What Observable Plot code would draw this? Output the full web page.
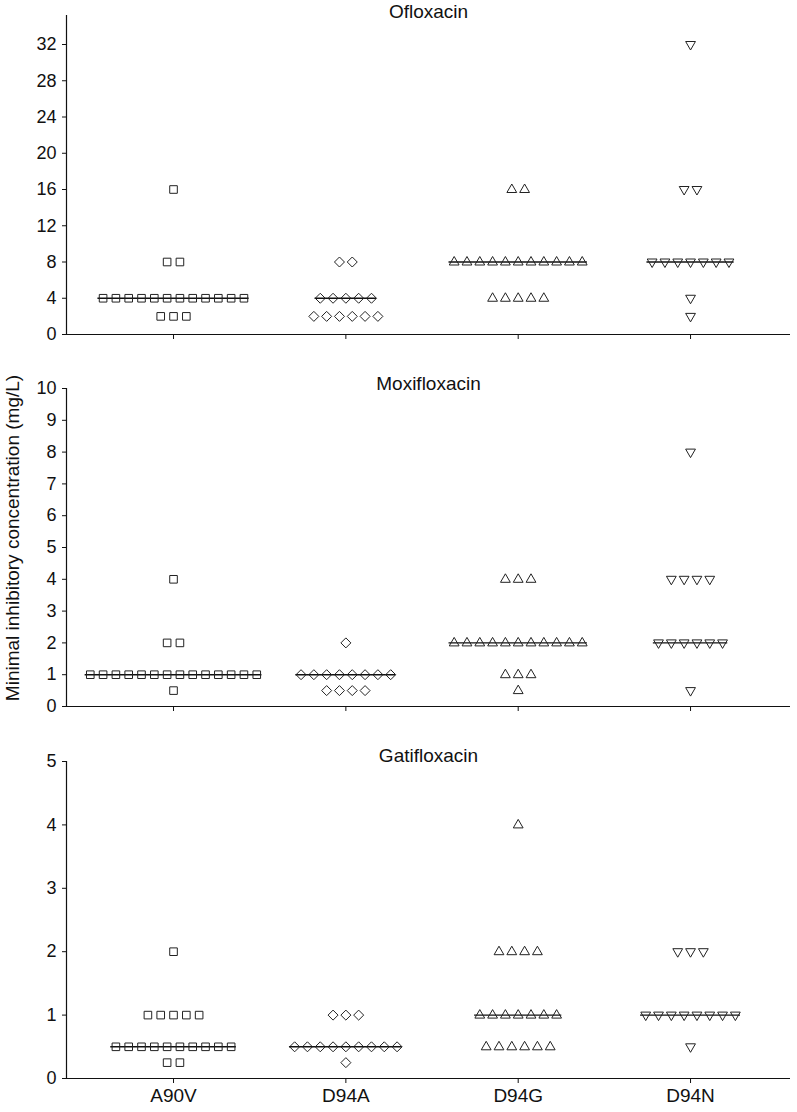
<!DOCTYPE html>
<html>
<head>
<meta charset="utf-8">
<script src="https://cdn.jsdelivr.net/npm/d3@7"></script>
<script src="https://cdn.jsdelivr.net/npm/@observablehq/plot@0.6"></script>
<style>
  html, body { margin: 0; padding: 0; background: #fff; }
  body { width: 797px; height: 1112px; position: relative; overflow: hidden;
         font-family: "Liberation Sans", Arial, sans-serif; color: #111; }
  .panel { position: absolute; left: 0; }
  #ylabel { position: absolute; left: 13px; top: 538px; transform: translate(-50%, -50%) rotate(-90deg);
            white-space: nowrap; font-size: 19px; }
</style>
</head>
<body>
<div id="p1" class="panel" style="top:0px"></div>
<div id="p2" class="panel" style="top:346px"></div>
<div id="p3" class="panel" style="top:716px"></div>
<div id="ylabel">Minimal inhibitory concentration (mg/L)</div>
<script>
// ---- data: [mutation, MIC (mg/L), number of isolates] ----
const categories = ["A90V", "D94A", "D94G", "D94N"];

const ofloxacinRows = [
  ["A90V", 16, 1], ["A90V", 8, 2], ["A90V", 4, 12], ["A90V", 2, 3],
  ["D94A", 8, 2], ["D94A", 4, 5], ["D94A", 2, 6],
  ["D94G", 16, 2], ["D94G", 8, 11], ["D94G", 4, 5],
  ["D94N", 32, 1], ["D94N", 16, 2], ["D94N", 8, 7], ["D94N", 4, 1], ["D94N", 2, 1]
];
const moxifloxacinRows = [
  ["A90V", 4, 1], ["A90V", 2, 2], ["A90V", 1, 14], ["A90V", 0.5, 1],
  ["D94A", 2, 1], ["D94A", 1, 8], ["D94A", 0.5, 4],
  ["D94G", 4, 3], ["D94G", 2, 11], ["D94G", 1, 3], ["D94G", 0.5, 1],
  ["D94N", 8, 1], ["D94N", 4, 4], ["D94N", 2, 6], ["D94N", 0.5, 1]
];
const gatifloxacinRows = [
  ["A90V", 2, 1], ["A90V", 1, 5], ["A90V", 0.5, 10], ["A90V", 0.25, 2],
  ["D94A", 1, 3], ["D94A", 0.5, 9], ["D94A", 0.25, 1],
  ["D94G", 4, 1], ["D94G", 2, 4], ["D94G", 1, 7], ["D94G", 0.5, 6],
  ["D94N", 2, 3], ["D94N", 1, 8], ["D94N", 0.5, 1]
];

const ofloxacinTicks = [0, 4, 8, 12, 16, 20, 24, 28, 32];
const moxifloxacinTicks = [0, 1, 2, 3, 4, 5, 6, 7, 8, 9, 10];
const gatifloxacinTicks = [0, 1, 2, 3, 4, 5];

// ---- marker shapes (custom symbols) ----
const squareSym = {draw(c) { c.moveTo(-3.8, -3.8); c.lineTo(3.8, -3.8); c.lineTo(3.8, 3.8); c.lineTo(-3.8, 3.8); c.closePath(); }};
const diamondSym = {draw(c) { c.moveTo(0, -5); c.lineTo(5, 0); c.lineTo(0, 5); c.lineTo(-5, 0); c.closePath(); }};
const triUpSym = {draw(c) { c.moveTo(0, -5.5); c.lineTo(4.9, 3); c.lineTo(-4.9, 3); c.closePath(); }};
const triDownSym = {draw(c) { c.moveTo(-4.9, -3); c.lineTo(4.9, -3); c.lineTo(0, 5.5); c.closePath(); }};
const symbols = [squareSym, diamondSym, triUpSym, triDownSym];

const STEP = 0.0743;   // horizontal spacing between neighbouring isolates (x units)
const XDOMAIN = [0.379, 4.58];

function expand(rows) {
  const pts = [];
  for (const [cat, mic, n] of rows) {
    const ci = categories.indexOf(cat) + 1;
    for (let k = 0; k < n; k++) pts.push({cat, ci, mic, x: ci + (k - (n - 1) / 2) * STEP});
  }
  return pts;
}

function medians(rows) {
  return categories.map((cat, i) => {
    const vals = [];
    for (const [c, mic, n] of rows) if (c === cat) for (let k = 0; k < n; k++) vals.push(mic);
    const med = d3.median(vals);
    const row = rows.find(r => r[0] === cat && r[1] === med);
    const n = row ? row[2] : 1;
    const half = (n - 1) / 2 * STEP + 0.03;
    return {cat, mic: med, x1: i + 1 - half, x2: i + 1 + half};
  });
}

function panel(rows, o) {
  const pts = expand(rows);
  const marks = [
    Plot.ruleY([0], {stroke: "#111", strokeWidth: 1.2}),
    Plot.ruleX([XDOMAIN[0]], {stroke: "#111", strokeWidth: 1.2}),
    Plot.axisY({ticks: o.ticks, tickFormat: d3.format("d"), tickSize: 4, tickPadding: 6, fontSize: 18, label: null, stroke: "#111"}),
    Plot.axisX({ticks: [1, 2, 3, 4], tickSize: 5, tickPadding: 5, fontSize: 19, label: null,
                tickFormat: o.labels ? (d => categories[d - 1]) : (() => "")}),
    Plot.ruleY(medians(rows), {y: "mic", x1: "x1", x2: "x2", stroke: "#111", strokeWidth: 1.4}),
    ...symbols.map((s, i) => Plot.dot(pts.filter(p => p.ci === i + 1),
        {x: "x", y: "mic", symbol: s, r: 4.5, stroke: "#222", strokeWidth: 1, fill: "none"})),
    Plot.text([o.title], {frameAnchor: "top", lineAnchor: "middle", dy: o.titleDy, fontSize: 19, fill: "#111"})
  ];
  return Plot.plot({
    width: 797, height: o.height,
    marginLeft: 66, marginRight: 7, marginTop: o.marginTop, marginBottom: o.marginBottom,
    style: {fontFamily: '"Liberation Sans", Arial, sans-serif', color: "#111", background: "#fff", overflow: "visible"},
    x: {type: "linear", domain: XDOMAIN},
    y: {domain: [0, o.yMax]},
    marks
  });
}

document.getElementById("p1").append(panel(ofloxacinRows, {
  title: "Ofloxacin", ticks: ofloxacinTicks, yMax: 35.2, height: 346, marginTop: 15, marginBottom: 12, titleDy: -4, labels: false}));
document.getElementById("p2").append(panel(moxifloxacinRows, {
  title: "Moxifloxacin", ticks: moxifloxacinTicks, yMax: 10, height: 370, marginTop: 42, marginBottom: 10, titleDy: -5, labels: false}));
document.getElementById("p3").append(panel(gatifloxacinRows, {
  title: "Gatifloxacin", ticks: gatifloxacinTicks, yMax: 5, height: 396, marginTop: 45, marginBottom: 34, titleDy: -6, labels: true}));
</script>
</body>
</html>
